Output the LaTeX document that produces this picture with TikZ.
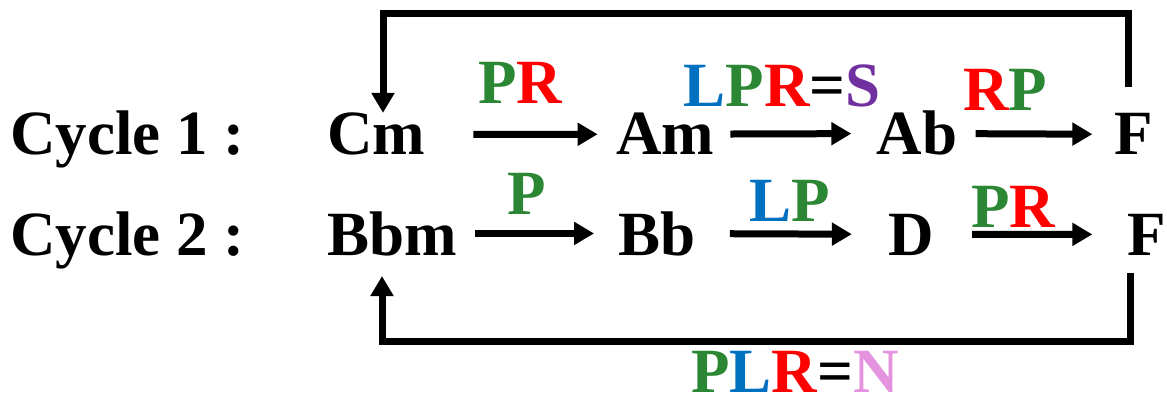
\documentclass[tikz,border=0pt]{standalone}
\usepackage{fontspec}
\setmainfont{Liberation Serif}
\usetikzlibrary{arrows.meta}

\definecolor{grn}{RGB}{43,135,52}
\definecolor{blu}{RGB}{0,112,192}
\definecolor{rd}{RGB}{255,0,0}
\definecolor{pur}{RGB}{112,48,160}
\definecolor{pnk}{RGB}{228,148,222}

\begin{document}
\begin{tikzpicture}[x=0.5pt,y=-0.5pt,
  chord/.style={inner sep=0pt,anchor=base,font=\fontsize{31.5}{36}\selectfont\bfseries},
  lab/.style={chord},
  arr/.style={line width=3.5pt,-{Triangle[length=10pt,width=11pt]}},
  back/.style={arr}]

\useasboundingbox (0,0) rectangle (1167,401);

\node[chord,anchor=base west] (cyc1) at (10,155) {Cycle 1 :};
\node[chord,anchor=base west] (cyc2) at (10,255) {Cycle 2 :};

\node[chord] (cm) at (376,155) {Cm};
\node[chord] (am) at (665,155) {Am};
\node[chord] (ab) at (917,155) {Ab};
\node[chord] (f1) at (1134,155) {F};

\node[chord] (bbm) at (392,255) {Bbm};
\node[chord] (bb) at (657,255) {Bb};
\node[chord] (d) at (911,255) {D};
\node[chord] (f2) at (1147,255) {F};

\node[lab] (pr1) at (520,104) {{\color{grn}P}{\color{rd}R}};
\node[lab] (lprs) at (782,106) {{\color{blu}L}{\color{grn}P}{\color{rd}R}={\color{pur}S}};
\node[lab] (rp) at (1005,111) {{\color{rd}R}{\color{grn}P}};

\node[lab] (p) at (527,214) {{\color{grn}P}};
\node[lab] (lp) at (790,221) {{\color{blu}L}{\color{grn}P}};
\node[lab] (pr2) at (1013,227) {{\color{grn}P}{\color{rd}R}};

\node[lab] (plrn) at (795,392) {{\color{grn}P}{\color{blu}L}{\color{rd}R}={\color{pnk}N}};

\draw[arr,shorten <=24pt,shorten >=9pt] (cm) -- (am);
\draw[arr,shorten <=8pt,shorten >=12.5pt] (am) -- (ab);
\draw[arr,shorten <=9pt,shorten >=11pt] (ab) -- (f1);

\draw[arr,shorten <=9pt,shorten >=12pt] (bbm) -- (bb);
\draw[arr,shorten <=17pt,shorten >=18pt] (bb) -- (d);
\draw[arr,shorten <=19pt,shorten >=17.5pt] (d) -- (f2);

\draw[back] ([xshift=-3pt,yshift=13pt]f1.north) |- ([xshift=3.5pt,yshift=49.5pt]cm.north) -- ([xshift=3.5pt]cm.north);
\draw[back] ([xshift=-8.5pt,yshift=-9pt]f2.south) |- ([xshift=-5pt,yshift=-42.5pt]bbm.south) -- ([xshift=-5pt,yshift=-10pt]bbm.south);

\end{tikzpicture}
\end{document}
